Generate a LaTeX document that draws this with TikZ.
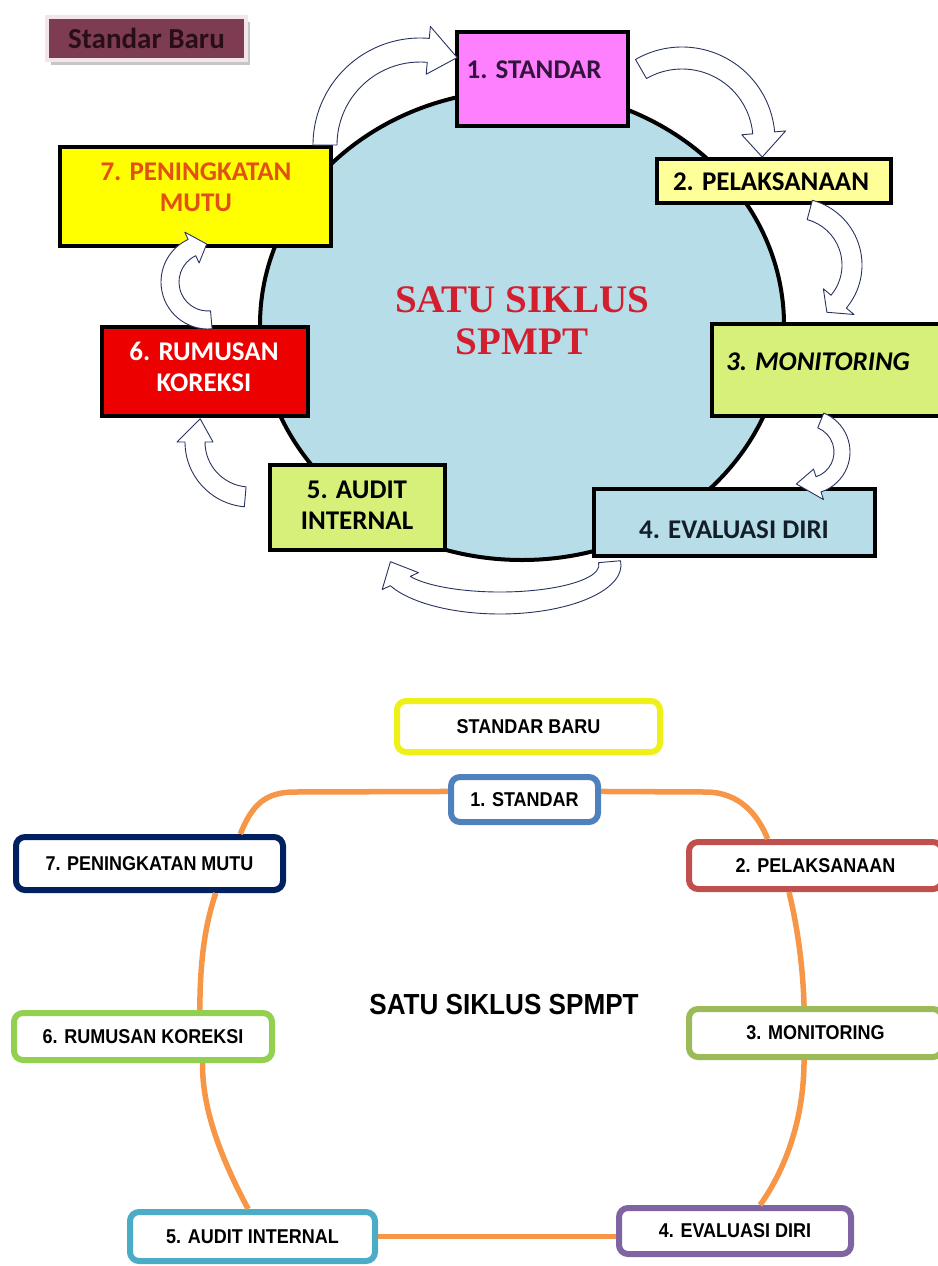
\documentclass[tikz,border=0pt]{standalone}
\usepackage{fontspec}
\usetikzlibrary{positioning,calc,shadows}
\newfontfamily\calibrifont{Carlito}
\newfontfamily\timesfont{Liberation Serif}
\newfontfamily\narrowfont[FakeStretch=0.9]{Liberation Sans}

\definecolor{circleblue}{RGB}{183,221,232}
\definecolor{standarpink}{RGB}{255,128,255}
\definecolor{pelakyellow}{RGB}{255,255,153}
\definecolor{monigreen}{RGB}{214,240,122}
\definecolor{koreksired}{RGB}{236,0,0}
\definecolor{mutuyellow}{RGB}{255,255,0}
\definecolor{mututext}{RGB}{225,80,20}
\definecolor{barumaroon}{RGB}{125,60,82}
\definecolor{siklusred}{RGB}{210,30,45}
\definecolor{arrownavy}{RGB}{40,50,95}
\definecolor{ringorange}{RGB}{247,150,70}
\definecolor{yellowb}{RGB}{240,240,25}
\definecolor{blueb}{RGB}{79,129,189}
\definecolor{navyb}{RGB}{0,32,96}
\definecolor{redb}{RGB}{192,80,77}
\definecolor{lgreenb}{RGB}{146,208,80}
\definecolor{oliveb}{RGB}{155,187,89}
\definecolor{cyanb}{RGB}{75,172,198}
\definecolor{purpleb}{RGB}{128,100,162}

\tikzset{
  topbox/.style={draw=black, line width=4pt, inner sep=0pt},
  toptext/.style={font=\calibrifont\bfseries\fontsize{27}{31}\selectfont, align=center},
  ringbox/.style={draw, line width=6pt, rounded corners=9pt, fill=white, inner sep=0pt,
    font=\narrowfont\bfseries\fontsize{20}{24}\selectfont},
  ring/.style={draw=ringorange, line width=5.5pt},
  bentarrow/.style={draw=arrownavy, fill=white, line width=0.9pt, line join=round}
}

% center, x radius, y radius, tail angle, head angle, tip angle, half width, head half width
\newcommand{\cyclearrow}[8]{%
  \draw[bentarrow] ($(#1)+(#4:#2+#7 and #3+#7)$)
    arc[start angle=#4, end angle=#5, x radius=#2+#7, y radius=#3+#7]
    -- ($(#1)+(#5:#2+#8 and #3+#8)$) -- ($(#1)+(#6:#2 and #3)$)
    -- ($(#1)+(#5:#2-#8 and #3-#8)$) -- ($(#1)+(#5:#2-#7 and #3-#7)$)
    arc[start angle=#5, end angle=#4, x radius=#2-#7, y radius=#3-#7]
    -- cycle;}

\begin{document}
\begin{tikzpicture}[x=1pt, y=-1pt]
  \useasboundingbox (0,0) rectangle (937,1266);

  % top cycle
  \draw[fill=circleblue, line width=4pt] (522,325) ellipse [x radius=262, y radius=235];
  \node[font=\timesfont\bfseries\fontsize{39}{42}\selectfont, text=siklusred, align=center]
    (siklus) at (522,321) {SATU SIKLUS\\SPMPT};

  \node[draw={rgb,255:red,242;green,230;blue,234}, fill=barumaroon, line width=4pt,
    minimum width=199, minimum height=43, inner sep=0pt,
    drop shadow={shadow xshift=4pt, shadow yshift=-5pt, fill=black!50, opacity=0.45},
    font=\calibrifont\bfseries\fontsize{29}{34}\selectfont, text={rgb,255:red,40;green,15;blue,22}]
    (standarbaru) at (146.5,38.5) {Standar Baru};

  \node[topbox, fill=standarpink, minimum width=171, minimum height=94] (standar) at (542.5,79) {};
  \node[topbox, fill=pelakyellow, minimum width=234, minimum height=44] (pelaksanaan) at (774,181) {};
  \node[topbox, fill=monigreen, minimum width=231, minimum height=92] (monitoring) at (827.5,370) {};
  \node[topbox, fill=circleblue, minimum width=281, minimum height=67] (evaluasi) at (734.5,522.5) {};
  \node[topbox, fill=monigreen, minimum width=175, minimum height=85] (audit) at (357.5,507.5) {};
  \node[topbox, fill=koreksired, minimum width=206, minimum height=89] (rumusan) at (205,371.5) {};
  \node[topbox, fill=mutuyellow, minimum width=271, minimum height=99] (peningkatan) at (195.5,196.5) {};

  \node[toptext, text={rgb,255:red,50;green,20;blue,60}] (standartext) at (534,70) {1. STANDAR};
  \node[toptext] (pelaksanaantext) at (771,182) {2. PELAKSANAAN};
  \node[toptext, font=\calibrifont\bfseries\itshape\fontsize{27}{31}\selectfont] (monitoringtext) at (818,362) {3. MONITORING};
  \node[toptext, text={rgb,255:red,20;green,30;blue,40}] (evaluasitext) at (734,530) {4. EVALUASI DIRI};
  \node[toptext] (audittext) at (357,505) {5. AUDIT\\INTERNAL};
  \node[toptext, text=white] (rumusantext) at (204,366.5) {6. RUMUSAN\\KOREKSI};
  \node[toptext, text=mututext] (peningkatantext) at (196,187.5) {7. PENINGKATAN\\MUTU};

  % curved arrows
  \cyclearrow{420,145}{95}{95}{180}{275}{293}{12}{24}
  \cyclearrow{682,140}{82}{82}{-120}{-5}{12}{11}{22}
  \cyclearrow{795,265}{57}{57}{-75}{40}{56}{10}{20}
  \cyclearrow{808,452}{34}{34}{-68}{72}{110}{8}{16}
  \cyclearrow{500,565}{110}{38}{-5}{155}{185}{11}{20}
  \cyclearrow{250,442}{55}{55}{95}{180}{205}{10}{18}
  \cyclearrow{208,282}{38}{38}{85}{245}{268}{9}{17}

  % bottom cycle
  \node[ringbox, draw=yellowb, minimum width=263, minimum height=51] (bbaru) at (528.5,726.5) {STANDAR BARU};
  \node[ringbox, draw=blueb, minimum width=147, minimum height=45] (bstandar) at (524.5,799.5) {1. STANDAR};
  \node[ringbox, draw=redb, minimum width=253, minimum height=47] (bpelaksanaan) at (815.5,865.5) {2. PELAKSANAAN};
  \node[ringbox, draw=oliveb, minimum width=253, minimum height=48] (bmonitoring) at (815.5,1033) {3. MONITORING};
  \node[ringbox, draw=purpleb, minimum width=232, minimum height=46] (bevaluasi) at (735,1231) {4. EVALUASI DIRI};
  \node[ringbox, draw=cyanb, minimum width=245, minimum height=49] (baudit) at (252.5,1236.5) {5. AUDIT INTERNAL};
  \node[ringbox, draw=lgreenb, minimum width=258, minimum height=47] (brumusan) at (143,1036.5) {6. RUMUSAN KOREKSI};
  \node[ringbox, draw=navyb, minimum width=267, minimum height=53] (bpeningkatan) at (149.5,863.5) {7. PENINGKATAN MUTU};
  \node[font=\narrowfont\bfseries\fontsize{29}{34}\selectfont] (bsiklus) at (504,1005) {SATU SIKLUS SPMPT};

  \draw[ring] (bpeningkatan.18) .. controls (252,805) and (265,792) .. (295,792) -- (bstandar.174);
  \draw[ring] (bstandar.6) -- (705,792) .. controls (740,792) and (758,815) .. (bpelaksanaan.151);
  \draw[ring] (bpelaksanaan.225) .. controls (797,925) and (803,965) .. (bmonitoring.113);
  \draw[ring] (bmonitoring.247) .. controls (804,1120) and (785,1170) .. (bevaluasi.46);
  \draw[ring] (bevaluasi.west |- baudit.east) -- (baudit.east);
  \draw[ring] (baudit.99) .. controls (222,1160) and (202,1110) .. (brumusan.336);
  \draw[ring] (brumusan.25) .. controls (200,960) and (205,925) .. (bpeningkatan.336);
\end{tikzpicture}
\end{document}
